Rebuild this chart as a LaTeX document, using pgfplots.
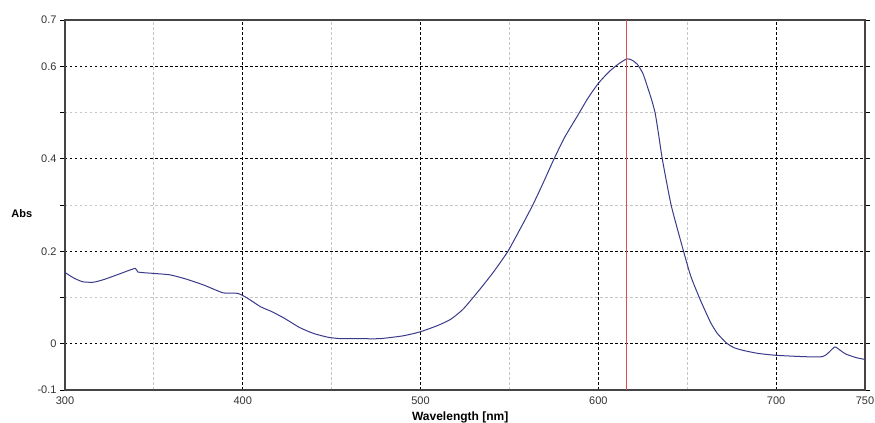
\documentclass[border=0pt]{standalone}
\usepackage{pgfplots}
\pgfplotsset{compat=1.18}
\usepackage{fontspec}
\setmainfont{Liberation Sans}
\usetikzlibrary{calc}
\definecolor{spec}{HTML}{3A3A8A}
\definecolor{marker}{HTML}{E0504A}
\definecolor{axisc}{HTML}{444444}

\begin{document}
\begin{tikzpicture}
\begin{axis}[
  scale only axis,
  width=800pt, height=370pt,
  xmin=300, xmax=750, ymin=-0.1, ymax=0.7,
  xtick={300,400,500,600,700,750},
  xticklabels={300,400,500,600,700,750},
  minor xtick={350,450,550,650},
  ytick={-0.1,0,0.2,0.4,0.6,0.7},
  yticklabels={-0.1,0,0.2,0.4,0.6,0.7},
  minor ytick={0.1,0.3,0.5},
  grid=both,
  major grid style={black, line width=0.9pt, dash pattern=on 2.5pt off 2.5pt},
  minor grid style={gray!45, line width=0.8pt, dash pattern=on 2.5pt off 2.5pt},
  axis line style={axisc, line width=1.2pt},
  tick align=outside,
  x tick style={draw=none},
  minor x tick style={draw=none},
  y tick style={black, line width=0.9pt},
  minor y tick style={black, line width=0.9pt},
  major tick length=5pt, minor tick length=5pt,
  tick label style={font=\fontsize{11}{13}\selectfont, text=black!80},
  xticklabel style={yshift=2pt},
  xlabel={\textbf{Wavelength [nm]}},
  ylabel={\textbf{Abs}},
  x label style={at={(axis description cs:0.494,-0.073)}, anchor=center, font=\fontsize{12}{14}\selectfont},
  y label style={at={(axis description cs:-0.054,0.478)}, anchor=center, rotate=-90, font=\fontsize{11}{13}\selectfont},
  clip=false,
]
% absorbance spectrum
\addplot[spec, line width=1pt, smooth, tension=0.35] coordinates {
  (300,0.154) (305,0.142) (310,0.134) (316,0.133) (322,0.139) (330,0.150)
  (339.5,0.163) (341,0.155) (350,0.152) (359,0.149) (368,0.140) (378,0.127)
  (389,0.110) (397,0.109) (402,0.100) (410,0.080) (416,0.070) (423,0.056)
  (432,0.035) (440,0.022) (448,0.014) (455,0.011) (465,0.011) (477,0.011)
  (490,0.017) (500,0.026) (510,0.040) (517,0.053) (524,0.075) (533,0.116)
  (541,0.155) (549,0.199) (556,0.248) (563,0.299) (569,0.348) (575,0.399)
  (581,0.446) (588,0.491) (594,0.530) (600,0.563) (606,0.588) (611,0.604)
  (616,0.616) (619,0.613) (622,0.604) (625,0.585) (627,0.563) (630,0.527)
  (632,0.498) (634,0.450) (636,0.399) (641,0.299) (648,0.199) (652,0.146)
  (657,0.098) (663,0.047) (667,0.022) (672,0.002) (676,-0.008) (681,-0.014)
  (690,-0.021) (700,-0.025) (716,-0.028) (726,-0.028) (729,-0.021)
  (733,-0.007) (736,-0.014) (739,-0.022) (745,-0.030) (750,-0.034)
};
% marker line
\addplot[marker, line width=1.2pt] coordinates {(616,-0.1) (616,0.7)};
\end{axis}
\pgfresetboundingbox
\path ($(current axis.south west)+(-65pt,-33pt)$) rectangle ($(current axis.north east)+(10pt,20pt)$);
\end{tikzpicture}
\end{document}
